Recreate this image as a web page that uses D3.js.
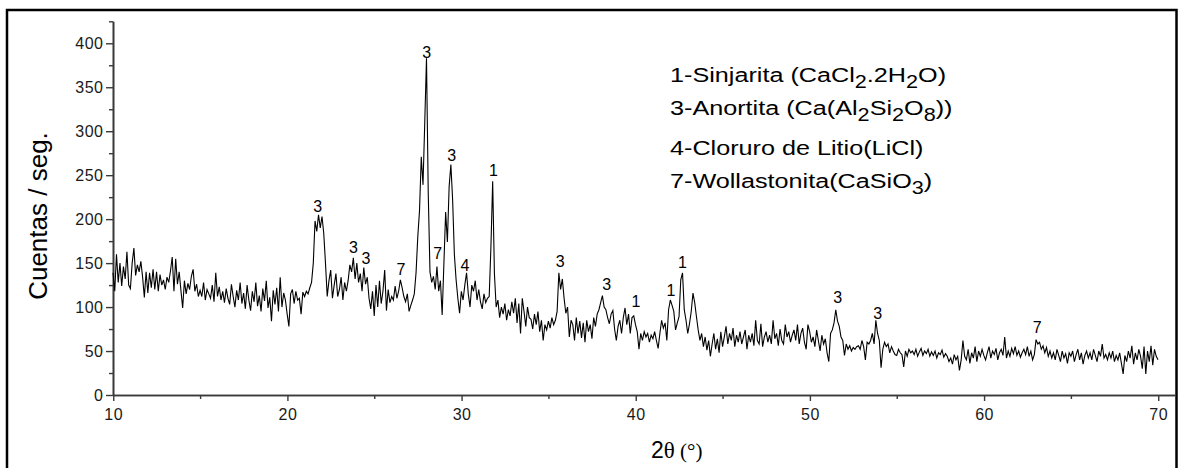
<!DOCTYPE html>
<html>
<head>
<meta charset="utf-8">
<script src="https://cdn.jsdelivr.net/npm/d3@7"></script>
<style>
body { margin: 0; background: #fff; }
</style>
</head>
<body>
<div id="chart"></div>
<script>
// XRD scan, 2theta from 10 to 70 deg, step 0.1
var thetaStart = 10, thetaStep = 0.1
var counts = [
 139,118,160,128,150,124,146,132,163,125,
 121,150,167,136,148,140,152,134,111,140,
 116,139,122,143,120,140,118,137,125,131,
 120,134,128,141,157,118,155,126,140,119,
 99,130,115,127,120,135,143,118,126,112,
 119,112,128,108,120,115,110,125,106,139,
 112,123,108,118,105,121,110,103,126,112,
 100,119,108,128,104,116,98,125,108,96,
 118,106,128,101,113,95,121,107,130,99,
 111,84,119,103,122,95,134,100,116,108,
 92,78,115,120,104,118,108,110,92,117,
 112,118,115,122,128,150,198,186,205,190,
 203,184,150,112,130,142,110,125,138,112,
 120,134,108,128,118,130,148,140,156,132,
 150,128,138,118,145,126,134,110,98,118,
 90,125,100,130,104,118,142,96,120,105,
 112,108,124,110,118,131,122,112,106,115,
 95,102,108,115,139,180,210,271,239,310,
 383,230,140,128,135,120,146,118,130,91,
 150,208,174,237,262,222,160,131,110,93,
 118,108,125,139,115,100,125,118,130,108,
 120,106,98,115,105,110,112,169,243,138,
 100,108,88,100,92,104,85,97,90,106,
 93,110,82,104,70,110,95,78,100,88,
 86,75,92,80,95,72,85,62,80,74,
 84,76,88,80,85,95,139,120,132,110,
 93,100,66,85,80,62,88,70,84,65,
 82,60,85,72,80,64,88,78,92,97,
 105,113,100,97,88,81,92,96,75,62,
 78,85,70,88,99,80,92,70,88,90,
 80,72,52,70,62,72,66,70,60,68,
 64,72,62,53,70,85,76,82,62,97,
 108,102,95,74,82,89,131,139,97,85,
 70,81,95,116,105,89,74,62,70,55,
 66,51,62,44,58,70,52,64,48,72,
 55,66,78,58,70,62,76,55,68,60,
 72,58,66,74,52,68,60,70,56,85,
 62,58,81,55,66,72,60,68,58,85,
 64,70,56,75,62,58,80,66,72,60,
 68,74,62,80,58,70,76,60,52,80,
 72,60,66,55,74,62,50,68,58,64,
 48,38,70,74,82,97,84,78,66,62,
 45,58,52,56,50,54,52,55,56,52,
 62,55,40,60,58,62,70,58,85,70,
 62,31,52,60,55,58,48,55,50,46,
 45,52,48,46,32,50,44,52,48,50,
 46,52,44,49,53,45,50,47,52,44,
 49,45,50,42,48,46,51,43,47,44,
 38,42,35,46,40,44,28,40,62,44,
 40,52,36,48,42,55,38,50,44,52,
 45,40,48,55,42,50,46,53,40,48,
 52,45,66,42,50,44,53,47,55,45,
 50,43,48,52,46,55,44,50,40,46,
 63,58,60,52,56,48,54,44,50,42,
 48,40,52,45,38,50,42,47,36,48,
 44,50,38,46,52,40,48,35,45,50,
 42,48,40,52,45,38,50,44,58,42,
 46,40,48,42,50,38,45,40,48,36,
 24,45,38,50,42,56,35,48,40,52,
 44,30,55,24,50,38,56,34,52,44,
 40
]

// phase labels over the peaks
var peakTheta = [21.75, 23.8, 24.53, 26.54, 28.01, 28.64, 29.45, 30.21, 31.84, 35.68, 38.35, 40.03, 42.04, 42.69, 51.61, 53.91, 63.07]
var peakLevel = [208, 161, 149, 137, 383, 155, 266, 141, 249, 146, 119, 100, 113, 144, 105, 86, 70]
var peakName  = ["3","3","3","7","3","7","3","4","1","3","3","1","1","1","3","3","7"]

// legend, [text, subscript?]
var legendLines = [
  [["1-Sinjarita (CaCl",0],["2",1],[".2H",0],["2",1],["O)",0]],
  [["3-Anortita (Ca(Al",0],["2",1],["Si",0],["2",1],["O",0],["8",1],["))",0]],
  [["4-Cloruro de Litio(LiCl)",0]],
  [["7-Wollastonita(CaSiO",0],["3",1],[")",0]]
]

var xTicks = [10,20,30,40,50,60,70]
var xMinor = [15,25,35,45,55,65]
var yTicks = [0,50,100,150,200,250,300,350,400]
var yMinor = [25,75,125,175,225,275,325,375,425]

var W = 1178, H = 468
var font = "'Liberation Sans', Arial, sans-serif"
var serif = "'Liberation Serif', 'Times New Roman', serif"

var svg = d3.select('#chart').append('svg')
  .attr('width', W)
  .attr('height', H)
  .style('font-family', font)

svg.append('rect')
  .attr('x', 7).attr('y', 10)
  .attr('width', 1169.5).attr('height', 470)
  .attr('fill', 'none')
  .attr('stroke', '#000')
  .attr('stroke-width', 2.5)

var x = d3.scaleLinear().domain([10, 71]).range([113, 1175.4])
var y = d3.scaleLinear().domain([0, 425]).range([395, 21.3])

var data = counts.map(function(c, i) {
  return { theta: thetaStart + i * thetaStep, count: c }
})

function styleAxis(g) {
  g.select('.domain').attr('stroke', '#3a3a3a').attr('stroke-width', 1.6)
  g.selectAll('.tick line').attr('stroke', '#3a3a3a').attr('stroke-width', 1.4)
  g.selectAll('.tick text')
    .attr('fill', '#1a1a1a')
    .style('font-size', '16px')
    .style('letter-spacing', '0.5px')
    .style('font-family', font)
}

svg.append('g')
  .attr('transform', 'translate(0,395)')
  .call(d3.axisBottom(x).tickValues(xMinor).tickSize(4).tickFormat('').tickSizeOuter(0))
  .call(styleAxis)
svg.append('g')
  .attr('transform', 'translate(0.25,395)')
  .call(d3.axisBottom(x).tickValues(xTicks).tickSize(6).tickPadding(8).tickSizeOuter(0).tickFormat(d3.format('d')))
  .call(styleAxis)

svg.append('g')
  .attr('transform', 'translate(113,0)')
  .call(d3.axisLeft(y).tickValues(yMinor).tickSize(4).tickFormat('').tickSizeOuter(0))
  .call(styleAxis)
svg.append('g')
  .attr('transform', 'translate(113,0)')
  .call(d3.axisLeft(y).tickValues(yTicks).tickSize(7).tickPadding(2.5).tickSizeOuter(0))
  .call(styleAxis)

var lineFunction = d3.line()
  .x(function(d) { return x(d.theta) })
  .y(function(d) { return y(d.count) })

svg.append('path')
  .attr('d', lineFunction(data))
  .attr('fill', 'none')
  .attr('stroke', '#000')
  .attr('stroke-width', 1.1)

svg.append('g').selectAll('text')
  .data(peakName)
  .join('text')
  .attr('x', function(d, i) { return x(peakTheta[i]) })
  .attr('y', function(d, i) { return y(peakLevel[i]) })
  .attr('text-anchor', 'middle')
  .style('font-size', '16px')
  .attr('fill', '#000')
  .text(function(d) { return d })

// axis titles
svg.append('text')
  .attr('transform', 'translate(47,216) rotate(-90)')
  .attr('text-anchor', 'middle')
  .style('font-size', '26px')
  .text('Cuentas / seg.')

var xt = svg.append('text')
  .attr('x', 651).attr('y', 458)
xt.append('tspan').style('font-size', '23px').text('2')
xt.append('tspan').style('font-size', '23px').style('font-family', serif).text('\u03b8')
xt.append('tspan').style('font-size', '21px').style('font-family', serif).text(' (\u00b0)')

// legend, drawn a bit wider than the font like the original
var legendY = [82, 115, 155, 188]
legendLines.forEach(function(parts, i) {
  var t = svg.append('g')
    .attr('transform', 'translate(670,' + legendY[i] + ') scale(1.2,1)')
    .append('text')
    .style('font-size', '21px')
  var down = false
  parts.forEach(function(p) {
    var s = t.append('tspan').text(p[0])
    if (p[1]) {
      s.style('font-size', '18px').attr('dy', down ? 0 : 6)
      down = true
    } else {
      if (down) s.attr('dy', -6)
      down = false
    }
  })
})
</script>
</body>
</html>
